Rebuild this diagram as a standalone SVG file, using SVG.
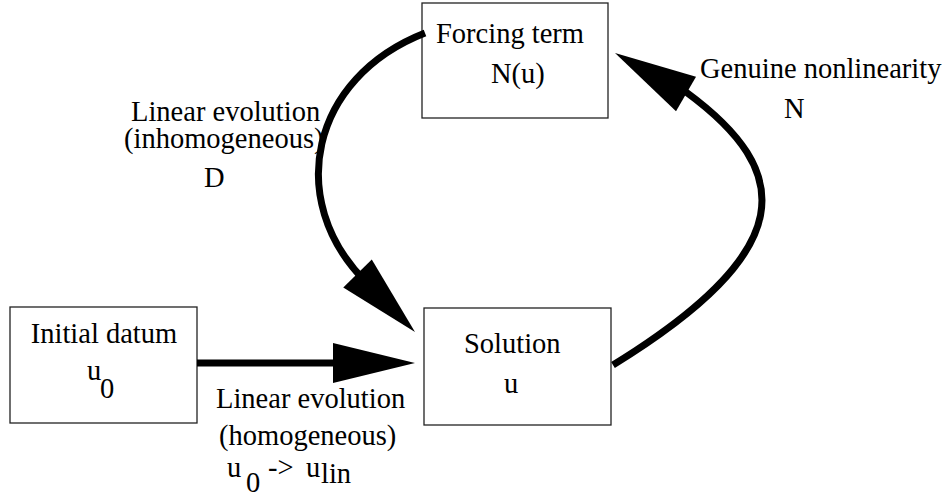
<svg xmlns="http://www.w3.org/2000/svg" width="948" height="498" viewBox="0 0 948 498">
  <style>
    .box { fill: #fff; stroke: #222; stroke-width: 1.3; }
    .lbl { font-family: 'Liberation Serif', 'DejaVu Serif', 'Times New Roman', Times, serif; font-size: 28.5px; fill: #000; }
    .wire { fill: none; stroke: #000; stroke-width: 7; stroke-linecap: butt; }
    .head { fill: #000; }
  </style>
  <defs>
    <!-- arrowhead with its tip at the origin, pointing along +x -->
    <path id="arrowhead" d="M0,0 L-82,-20 L-82,20 Z"/>
  </defs>
  <rect width="948" height="498" fill="#fff"/>

  <g id="node-initial">
    <rect class="box" x="10" y="307" width="187" height="116"/>
    <text class="lbl" x="104" y="343" text-anchor="middle">Initial datum</text>
    <text class="lbl" x="87" y="380">u</text>
    <text class="lbl" x="100" y="398">0</text>
  </g>

  <g id="node-forcing">
    <rect class="box" x="422" y="3" width="186" height="115"/>
    <text class="lbl" x="436" y="43">Forcing term</text>
    <text class="lbl" x="491" y="83">N(u)</text>
  </g>

  <g id="node-solution">
    <rect class="box" x="424" y="308" width="187" height="117"/>
    <text class="lbl" x="464" y="353">Solution</text>
    <text class="lbl" x="504" y="393">u</text>
  </g>

  <g id="labels">
    <text class="lbl" x="131" y="121">Linear evolution</text>
    <text class="lbl" x="124" y="148">(inhomogeneous)</text>
    <text class="lbl" x="204" y="187">D</text>
    <text class="lbl" x="700" y="78">Genuine nonlinearity</text>
    <text class="lbl" x="784" y="118">N</text>
    <text class="lbl" x="216" y="408">Linear evolution</text>
    <text class="lbl" x="219" y="445">(homogeneous)</text>
    <text class="lbl" x="227" y="477">u</text>
    <text class="lbl" x="246" y="492">0</text>
    <text class="lbl" x="268" y="477">-&gt;</text>
    <text class="lbl" x="306" y="477">u</text>
    <text class="lbl" x="321" y="483">lin</text>
  </g>

  <g id="connectors">
    <!-- initial datum to solution -->
    <line class="wire" x1="197" y1="363" x2="340" y2="363"/>
    <use href="#arrowhead" class="head" transform="translate(415,363)"/>
    <!-- forcing term to solution -->
    <path class="wire" d="M425,33 C310,78 285,200 365,281"/>
    <use href="#arrowhead" class="head" transform="translate(415,332) rotate(45.5)"/>
    <!-- solution back to forcing term -->
    <path class="wire" d="M613,365 C800,250 795,172 686,92"/>
    <use href="#arrowhead" class="head" transform="translate(615,53) rotate(210)"/>
  </g>
</svg>
